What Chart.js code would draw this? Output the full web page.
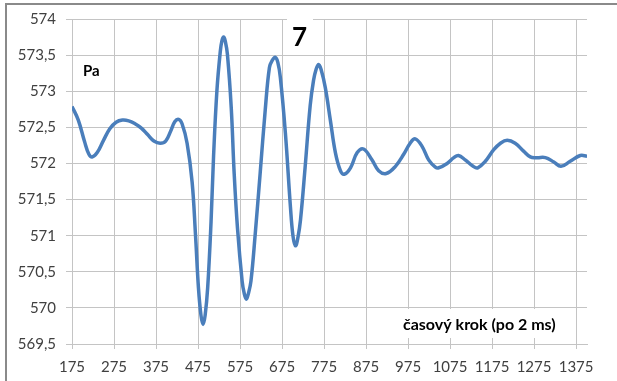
<!DOCTYPE html>
<html>
<head>
<meta charset="utf-8">
<script src="https://cdn.jsdelivr.net/npm/chart.js@4/dist/chart.umd.min.js"></script>
<style>
  html, body { margin: 0; padding: 0; background: #fff; }
  #wrap { width: 617px; height: 381px; }
</style>
</head>
<body>
<div id="wrap"><canvas id="chart" width="617" height="381"></canvas></div>
<script>
// time step (category) and pressure [Pa]
const steps = [175, 190, 205, 215, 223, 235, 250, 265, 280, 295, 310, 325, 340, 355, 370, 385, 398, 410, 420, 429,
  437, 449, 461, 469, 476, 482, 487, 492, 498, 506, 512, 520, 528, 532, 536, 540, 545, 554, 561, 569,
  580, 585, 590, 595, 601, 611, 623, 635, 645, 652, 659, 665, 671, 683, 695, 701, 707, 713, 719, 730,
  742, 750, 756, 762, 768, 778, 790, 802, 814, 823, 838, 854, 869, 889, 905, 923, 945, 965, 980, 992,
  1008, 1024, 1040, 1048, 1068, 1084, 1095, 1111, 1130, 1141, 1159, 1179, 1195, 1211, 1230, 1250, 1266, 1282, 1302, 1322,
  1339, 1361, 1385, 1401];
const pressure = [572.79, 572.60, 572.30, 572.13, 572.09, 572.15, 572.32, 572.48, 572.57, 572.60, 572.59, 572.55, 572.49, 572.40, 572.31, 572.28, 572.31, 572.45, 572.58, 572.61,
  572.55, 572.28, 571.74, 571.01, 570.28, 569.90, 569.77, 569.90, 570.28, 571.19, 572.10, 573.01, 573.55, 573.70, 573.75, 573.69, 573.51, 572.78, 571.87, 571.10,
  570.37, 570.20, 570.12, 570.20, 570.37, 571.01, 571.87, 572.74, 573.33, 573.43, 573.47, 573.40, 573.19, 572.42, 571.40, 571.00, 570.86, 570.98, 571.22, 571.95,
  572.80, 573.15, 573.30, 573.37, 573.30, 573.05, 572.60, 572.15, 571.90, 571.85, 571.94, 572.15, 572.20, 572.05, 571.90, 571.86, 571.96, 572.13, 572.28, 572.34,
  572.24, 572.05, 571.95, 571.94, 572.00, 572.08, 572.11, 572.05, 571.96, 571.94, 572.03, 572.19, 572.28, 572.32, 572.28, 572.17, 572.09, 572.08, 572.08, 572.02,
  571.96, 572.03, 572.11, 572.10];

const xTicks = [175, 275, 375, 475, 575, 675, 775, 875, 975, 1075, 1175, 1275, 1375];
const yMin = 569.5, yMax = 574, yStep = 0.5;

const unitLabel = "Pa";
const caseLabel = "7";
const axisNote = "časový krok (po 2 ms)";

const gridColor = "#c4c4c4";
const tickColor = "#404040";
const fontFamily = "Lato, 'Open Sans', sans-serif";

// white background, outer frame and the text notes
const decor = {
  id: "decor",
  beforeDraw(chart) {
    const ctx = chart.ctx;
    ctx.save();
    ctx.fillStyle = "#fff";
    ctx.fillRect(0, 0, chart.width, chart.height);
    ctx.strokeStyle = "#8a8a8a";
    ctx.lineWidth = 2;
    ctx.beginPath();
    ctx.moveTo(6, chart.height);
    ctx.lineTo(6, 4);
    ctx.lineTo(chart.width, 4);
    ctx.stroke();
    ctx.restore();
  },
  beforeDatasetsDraw(chart) {
    const ctx = chart.ctx;
    ctx.save();
    ctx.fillStyle = "#fff";
    ctx.fillRect(287, 11, 26, 42);
    ctx.fillRect(400, 309, 162, 29);

    ctx.fillStyle = "#000";
    ctx.textBaseline = "alphabetic";
    ctx.textAlign = "left";
    ctx.font = "bold 15px " + fontFamily;
    ctx.fillText(unitLabel, 83, 76);
    ctx.font = "bold 16px " + fontFamily;
    ctx.fillText(axisNote, 403, 330);
    ctx.font = "bold 26px " + fontFamily;
    ctx.fillText(caseLabel, 292, 46);
    ctx.restore();
  }
};

new Chart(document.getElementById("chart"), {
  type: "line",
  data: {
    datasets: [{
      data: steps.map((s, i) => ({ x: s, y: pressure[i] })),
      borderColor: "#4a7ebb",
      borderWidth: 3.5,
      pointRadius: 0,
      tension: 0.4,
      fill: false
    }]
  },
  options: {
    responsive: false,
    animation: false,
    layout: { padding: { left: 0, right: 30, top: 14, bottom: 0 } },
    plugins: { legend: { display: false }, tooltip: { enabled: false } },
    scales: {
      x: {
        type: "linear",
        min: 175,
        max: 1401,
        afterBuildTicks: s => { s.ticks = xTicks.map(v => ({ value: v })); },
        afterFit: s => { s.height = 37; },
        grid: { color: gridColor, tickLength: 5 },
        border: { color: gridColor },
        ticks: {
          color: tickColor,
          font: { family: fontFamily, size: 15 },
          padding: 9,
          maxRotation: 0,
          autoSkip: false,
          callback: v => String(v)
        }
      },
      y: {
        min: yMin,
        max: yMax,
        afterFit: s => { s.width = 72; },
        grid: { color: gridColor, tickLength: 6 },
        border: { color: gridColor },
        ticks: {
          stepSize: yStep,
          color: tickColor,
          font: { family: fontFamily, size: 15 },
          padding: 10,
          callback: v => String(v).replace(".", ",")
        }
      }
    }
  },
  plugins: [decor]
});
</script>
</body>
</html>
